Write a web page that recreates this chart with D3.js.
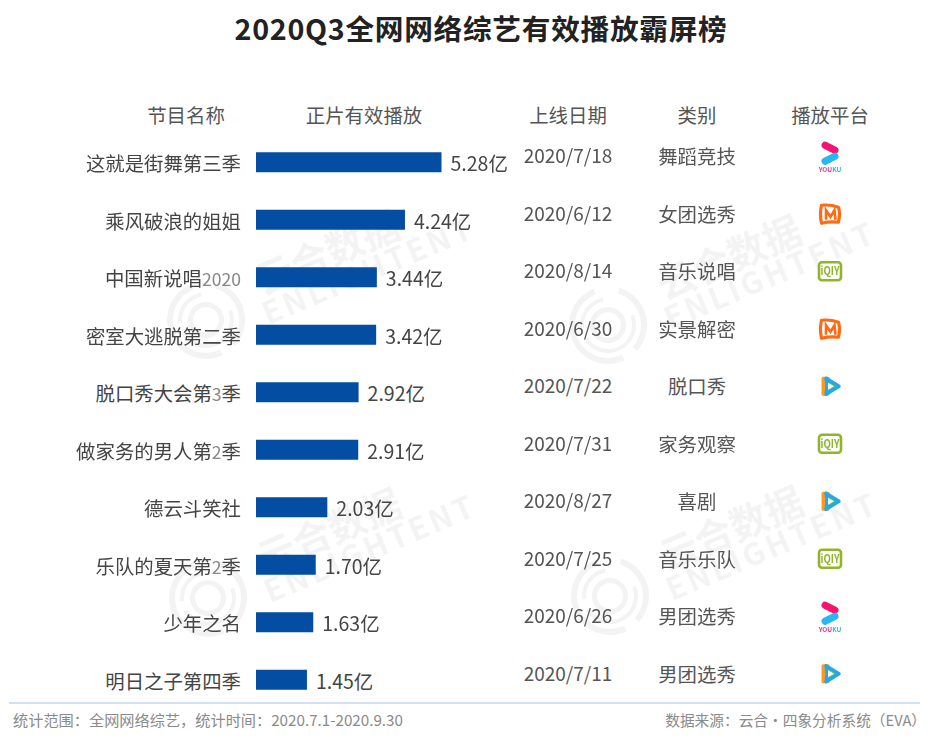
<!DOCTYPE html>
<html>
<head>
<meta charset="utf-8">
<script src="https://cdn.jsdelivr.net/npm/d3@7"></script>
<style>
  html, body { margin: 0; padding: 0; background: #fff; }
  svg text { font-family: "Noto Sans CJK SC", "Noto Sans", sans-serif; }
</style>
</head>
<body>
<div id="chart"></div>
<script>
const names = ["这就是街舞第三季", "乘风破浪的姐姐", "中国新说唱2020", "密室大逃脱第二季", "脱口秀大会第3季",
  "做家务的男人第2季", "德云斗笑社", "乐队的夏天第2季", "少年之名", "明日之子第四季"];
const plays = [5.28, 4.24, 3.44, 3.42, 2.92, 2.91, 2.03, 1.70, 1.63, 1.45];
const dates = ["2020/7/18", "2020/6/12", "2020/8/14", "2020/6/30", "2020/7/22",
  "2020/7/31", "2020/8/27", "2020/7/25", "2020/6/26", "2020/7/11"];
const kinds = ["舞蹈竞技", "女团选秀", "音乐说唱", "实景解密", "脱口秀",
  "家务观察", "喜剧", "音乐乐队", "男团选秀", "男团选秀"];
const platforms = ["youku", "mango", "iqiyi", "mango", "tencent",
  "iqiyi", "tencent", "iqiyi", "youku", "tencent"];
const headers = ["节目名称", "正片有效播放", "上线日期", "类别", "播放平台"];

const width = 943, height = 742;
const ink = "#444";

const svg = d3.select("#chart").append("svg")
  .attr("width", width)
  .attr("height", height)
  .style("display", "block");

// watermarks go underneath everything
function watermark(x, y) {
  const g = svg.append("g").attr("transform", `translate(${x},${y})`).attr("opacity", 0.055);
  const arc = d3.arc();
  [[33, 39, 0.3, 2.3], [33, 39, 2.7, 5.9], [24, 28, 1.2, 4.2], [24, 28, 4.6, 6.1], [13, 18, 0, 6.28]].forEach(a => {
    g.append("path")
      .attr("d", arc({innerRadius: a[0], outerRadius: a[1], startAngle: a[2], endAngle: a[3]}))
      .attr("fill", "#333");
  });
  const t = g.append("g").attr("transform", "rotate(-23)").attr("fill", "#333").attr("font-weight", 700);
  t.append("text").attr("x", 62).attr("y", -1).attr("font-size", 38).text("云合数据");
  t.append("text").attr("x", 55).attr("y", 29).attr("font-size", 31).attr("letter-spacing", 3).text("ENLIGHTENT");
}
watermark(206, 320);
watermark(608, 325);
watermark(208, 598);
watermark(610, 596);

svg.append("text")
  .attr("x", 481).attr("y", 40)
  .attr("text-anchor", "middle")
  .attr("font-size", 28.7)
  .attr("font-weight", 700)
  .attr("letter-spacing", 0.7)
  .attr("fill", "#222")
  .text("2020Q3全网网络综艺有效播放霸屏榜");

const headerX = [186, 364, 568, 697, 830];
svg.selectAll(".head").data(headers).join("text")
  .attr("class", "head")
  .attr("x", (d, i) => headerX[i])
  .attr("y", 123)
  .attr("text-anchor", "middle")
  .attr("font-size", 19.4)
  .attr("fill", "#555")
  .text(d => d);

const x = d3.scaleLinear().domain([0, 5.28]).range([256, 441.5]);
const y = d3.scaleBand().domain(d3.range(names.length)).range([133.5, 708.5]).paddingInner(0.652).paddingOuter(0.326);

const rows = svg.selectAll(".row").data(names).join("g")
  .attr("class", "row")
  .attr("transform", (d, i) => `translate(0,${y(i) + y.bandwidth() / 2})`);

// digits inside the names are set lighter and smaller in the original
rows.append("text")
  .attr("x", 241).attr("y", 9)
  .attr("text-anchor", "end")
  .attr("font-size", 19.4)
  .attr("fill", ink)
  .each(function (d) {
    const t = d3.select(this);
    d.split(/(\d+)/).filter(s => s).forEach(s => {
      const span = t.append("tspan").attr("fill", /\d/.test(s) ? "#888" : ink).text(s);
      if (/\d/.test(s)) span.attr("font-size", 17.6);
    });
  });

rows.append("rect")
  .attr("x", x(0))
  .attr("y", -y.bandwidth() / 2)
  .attr("width", (d, i) => x(plays[i]) - x(0))
  .attr("height", y.bandwidth())
  .attr("fill", "#034ea2");

rows.append("text")
  .attr("x", (d, i) => x(plays[i]) + 9)
  .attr("y", 9)
  .attr("font-size", 19.5)
  .attr("fill", ink)
  .text((d, i) => plays[i].toFixed(2) + "亿");

// right hand columns sit a little higher than the bars
rows.append("text")
  .attr("x", 568).attr("y", 1)
  .attr("text-anchor", "middle")
  .attr("font-size", 19)
  .attr("fill", "#555")
  .text((d, i) => dates[i]);

rows.append("text")
  .attr("x", 697).attr("y", 2)
  .attr("text-anchor", "middle")
  .attr("font-size", 19.4)
  .attr("fill", "#555")
  .text((d, i) => kinds[i]);

const icons = {
  youku(g) {
    g.append("path").attr("d", "M-5,-15 L5,-10").attr("stroke", "#f5146f").attr("stroke-width", 7).attr("stroke-linecap", "round");
    g.append("path").attr("d", "M5,-4 L-5,1").attr("stroke", "#27b6f6").attr("stroke-width", 7).attr("stroke-linecap", "round");
    const label = g.append("text").attr("x", 0).attr("y", 12).attr("text-anchor", "middle").attr("font-size", 6.5).attr("font-weight", 700);
    label.append("tspan").attr("fill", "#f0308c").text("YOU");
    label.append("tspan").attr("fill", "#27b6f6").text("KU");
  },
  mango(g) {
    g.append("path").attr("d", "M-8.5,-8.5 Q0,-9.5 8.5,-6.5 Q10.5,0 8.5,8.5 Q0,7.5 -8.5,9.5 Q-10.5,0 -8.5,-8.5 Z")
      .attr("fill", "#fff").attr("stroke", "#ff6a13").attr("stroke-width", 3.2).attr("stroke-linejoin", "round");
    g.append("path").attr("d", "M-4,6 L-4,-3.5 L0.5,3 L4.5,-3.5 L5.5,6")
      .attr("fill", "none").attr("stroke", "#ff6a13").attr("stroke-width", 2.6);
  },
  iqiyi(g) {
    g.append("rect").attr("x", -11).attr("y", -9).attr("width", 22).attr("height", 18).attr("rx", 3)
      .attr("fill", "#fff").attr("stroke", "#8fb52a").attr("stroke-width", 2.6);
    g.append("text").attr("x", 0).attr("y", 4.2).attr("text-anchor", "middle").attr("font-size", 11.5).attr("font-weight", 700)
      .attr("textLength", 19).attr("lengthAdjust", "spacingAndGlyphs")
      .attr("fill", "#8fb52a").text("iQIY");
  },
  tencent(g) {
    g.append("path").attr("d", "M-7,-8 L-7,8 L-2,8 L-2,-8 Z").attr("fill", "#ff9a1f").attr("stroke", "#ff9a1f").attr("stroke-width", 3).attr("stroke-linejoin", "round");
    g.append("path").attr("d", "M-4,-8 L9,0 L-4,8 Q-2,0 -4,-8 Z").attr("fill", "#5cc83b").attr("stroke", "#22a7f0").attr("stroke-width", 3.4).attr("stroke-linejoin", "round");
    g.append("path").attr("d", "M-2,-3.5 L4,0 L-2,3.5 Z").attr("fill", "#fff");
  }
};

rows.each(function (d, i) {
  const g = d3.select(this).append("g")
    .attr("transform", `translate(830,${platforms[i] === "youku" ? -2 : -6})`)
    .attr("fill", "none");
  icons[platforms[i]](g);
});

svg.append("line")
  .attr("x1", 9).attr("x2", 920)
  .attr("y1", 703).attr("y2", 703)
  .attr("stroke", "#c5d4ee")
  .attr("stroke-width", 1.5);

svg.append("text")
  .attr("x", 13).attr("y", 726)
  .attr("font-size", 15.2)
  .attr("fill", "#8a8a8a")
  .text("统计范围：全网网络综艺，统计时间：2020.7.1-2020.9.30");

svg.append("text")
  .attr("x", 926).attr("y", 726)
  .attr("text-anchor", "end")
  .attr("font-size", 14.7)
  .attr("fill", "#8a8a8a")
  .text("数据来源：云合·四象分析系统（EVA）");
</script>
</body>
</html>
